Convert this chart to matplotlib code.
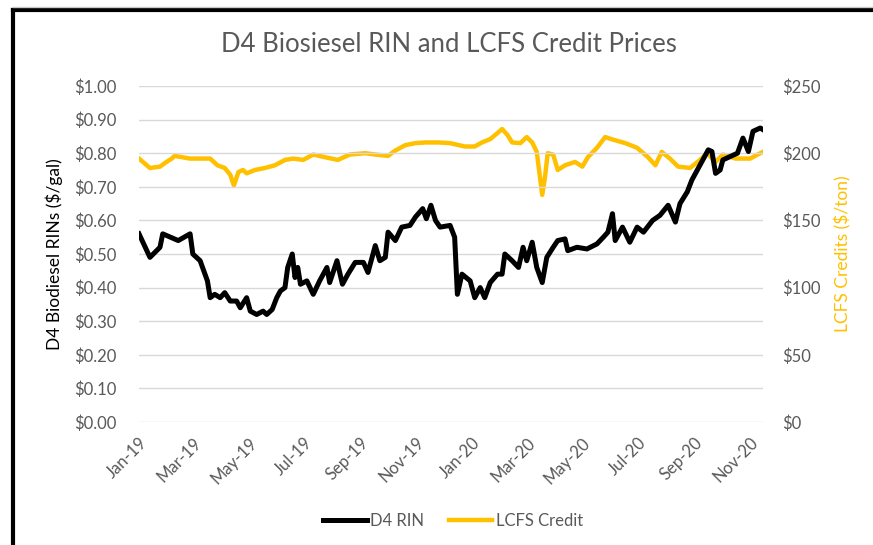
import matplotlib
matplotlib.use("Agg")
import matplotlib.pyplot as plt
from matplotlib.lines import Line2D
from matplotlib.ticker import FuncFormatter
import pandas as pd

plt.rcParams['font.family'] = ['Lato', 'DejaVu Sans']

# === D4 RIN prices ($/gal) ===
rin_dates = [
    "2019-01-01", "2019-01-13", "2019-01-24", "2019-01-27", "2019-02-13", "2019-02-26",
    "2019-03-01", "2019-03-09", "2019-03-17", "2019-03-20", "2019-03-25", "2019-03-31",
    "2019-04-05", "2019-04-11", "2019-04-18", "2019-04-22", "2019-04-29", "2019-05-03",
    "2019-05-10", "2019-05-17", "2019-05-21", "2019-05-27", "2019-06-01", "2019-06-05",
    "2019-06-10", "2019-06-13", "2019-06-18", "2019-06-21", "2019-06-24", "2019-06-27",
    "2019-07-04", "2019-07-11", "2019-07-18", "2019-07-26", "2019-07-29", "2019-08-06",
    "2019-08-12", "2019-08-18", "2019-08-26", "2019-09-04", "2019-09-09", "2019-09-17",
    "2019-09-22", "2019-09-28", "2019-10-01", "2019-10-09", "2019-10-16", "2019-10-25",
    "2019-10-31", "2019-11-08", "2019-11-12", "2019-11-17", "2019-11-22", "2019-11-27",
    "2019-12-08", "2019-12-13", "2019-12-16", "2019-12-21", "2019-12-30", "2020-01-04",
    "2020-01-10", "2020-01-15", "2020-01-21", "2020-01-29", "2020-02-03", "2020-02-06",
    "2020-02-14", "2020-02-21", "2020-02-26", "2020-03-01", "2020-03-07", "2020-03-12",
    "2020-03-18", "2020-03-23", "2020-03-30", "2020-04-04", "2020-04-12", "2020-04-15",
    "2020-04-25", "2020-05-06", "2020-05-17", "2020-05-24", "2020-05-29", "2020-06-03",
    "2020-06-06", "2020-06-14", "2020-06-22", "2020-06-30", "2020-07-07", "2020-07-17",
    "2020-07-25", "2020-08-03", "2020-08-11", "2020-08-16", "2020-08-24", "2020-08-29",
    "2020-09-04", "2020-09-10", "2020-09-16", "2020-09-20", "2020-09-24", "2020-09-29",
    "2020-10-02", "2020-10-10", "2020-10-18", "2020-10-24", "2020-10-30", "2020-11-04",
    "2020-11-12", "2020-11-15",
]
rin_values = [
    0.56, 0.49, 0.52, 0.56, 0.54, 0.56,
    0.50, 0.48, 0.42, 0.37, 0.38, 0.37,
    0.385, 0.36, 0.36, 0.34, 0.37, 0.33,
    0.32, 0.33, 0.32, 0.335, 0.37, 0.39,
    0.40, 0.46, 0.50, 0.43, 0.46, 0.41,
    0.42, 0.38, 0.42, 0.46, 0.415, 0.48,
    0.41, 0.44, 0.475, 0.475, 0.445, 0.525,
    0.48, 0.49, 0.565, 0.54, 0.58, 0.585,
    0.61, 0.635, 0.605, 0.645, 0.60, 0.58,
    0.585, 0.55, 0.38, 0.44, 0.42, 0.37,
    0.40, 0.37, 0.415, 0.44, 0.44, 0.50,
    0.48, 0.46, 0.52, 0.48, 0.535, 0.46,
    0.415, 0.49, 0.52, 0.54, 0.545, 0.51,
    0.52, 0.515, 0.53, 0.55, 0.565, 0.62,
    0.54, 0.58, 0.535, 0.58, 0.565, 0.60,
    0.615, 0.645, 0.595, 0.65, 0.685, 0.72,
    0.75, 0.78, 0.81, 0.805, 0.74, 0.75,
    0.78, 0.79, 0.80, 0.845, 0.805, 0.865,
    0.875, 0.87,
]

# === LCFS credit prices ($/ton) ===
lcfs_dates = [
    "2019-01-01", "2019-01-13", "2019-01-24", "2019-01-30", "2019-02-06", "2019-02-09",
    "2019-02-26", "2019-03-20", "2019-03-28", "2019-04-05", "2019-04-11", "2019-04-15",
    "2019-04-20", "2019-04-25", "2019-04-29", "2019-05-08", "2019-05-19", "2019-05-30",
    "2019-06-10", "2019-06-19", "2019-06-30", "2019-07-11", "2019-07-24", "2019-08-07",
    "2019-08-20", "2019-09-06", "2019-09-17", "2019-10-01", "2019-10-09", "2019-10-20",
    "2019-10-31", "2019-11-11", "2019-11-25", "2019-12-08", "2019-12-24", "2020-01-04",
    "2020-01-12", "2020-01-21", "2020-01-29", "2020-02-03", "2020-02-09", "2020-02-14",
    "2020-02-23", "2020-03-01", "2020-03-07", "2020-03-12", "2020-03-18", "2020-03-21",
    "2020-03-24", "2020-03-30", "2020-04-04", "2020-04-12", "2020-04-23", "2020-05-01",
    "2020-05-07", "2020-05-17", "2020-05-26", "2020-06-04", "2020-06-17", "2020-06-30",
    "2020-07-12", "2020-07-20", "2020-07-27", "2020-08-05", "2020-08-14", "2020-08-27",
    "2020-09-07", "2020-09-15", "2020-09-24", "2020-10-02", "2020-10-16", "2020-11-01",
    "2020-11-09", "2020-11-15",
]
lcfs_values = [
    196, 189, 190, 193, 196, 198,
    196, 196, 191, 189, 184, 176,
    186, 187.5, 185, 187.5, 189, 191,
    195, 196, 195, 199, 197, 195,
    199, 200, 199, 198, 202, 206,
    207.5, 208, 208, 207.5, 205, 205,
    208, 210.5, 215, 218, 213.5, 208,
    207.5, 212, 208, 201, 169, 182,
    200, 199, 187.5, 191, 193.5, 190,
    197, 204, 212, 210, 207.5, 204,
    197, 191, 201, 196, 190, 189,
    195, 200, 193.5, 199, 196, 196,
    199, 201,
]

tick_months = ["Jan-19", "Mar-19", "May-19", "Jul-19", "Sep-19", "Nov-19",
               "Jan-20", "Mar-20", "May-20", "Jul-20", "Sep-20", "Nov-20"]

rin = pd.Series(rin_values, index=pd.to_datetime(rin_dates))
lcfs = pd.Series(lcfs_values, index=pd.to_datetime(lcfs_dates))

gold = "#FFC000"
grey = "#595959"

fig = plt.figure(figsize=(8.73, 5.45), dpi=100)
ax = fig.add_axes([139 / 873, 1 - 422 / 545, (763 - 139) / 873, (422 - 86) / 545])
ax2 = ax.twinx()

ax.plot(rin.index, rin.values, color="black", lw=3.6, solid_joinstyle="round", zorder=3)
ax2.plot(lcfs.index, lcfs.values, color=gold, lw=3.2, solid_joinstyle="round", zorder=2)

ax.set_ylim(0, 1.0)
ax2.set_ylim(0, 250)
ax.set_yticks([i / 10 for i in range(11)])
ax2.set_yticks(range(0, 251, 50))
ax.yaxis.set_major_formatter(FuncFormatter(lambda v, p: f"${v:.2f}"))
ax2.yaxis.set_major_formatter(FuncFormatter(lambda v, p: f"${v:.0f}"))

ax.set_xlim(rin.index[0], rin.index[-1])
ticks = pd.to_datetime(tick_months, format="%b-%y")
ax.set_xticks(ticks)
ax.set_xticklabels(tick_months, rotation=45, ha="right", rotation_mode="anchor")

ax.grid(axis="y", color="#d9d9d9", lw=1.0)
ax.set_axisbelow(True)
for a in (ax, ax2):
    for s in a.spines.values():
        s.set_visible(False)
    a.tick_params(length=0, colors=grey, labelsize=12)
ax.tick_params(axis="y", pad=16)
ax.tick_params(axis="x", pad=9)
ax2.tick_params(axis="y", pad=14)
ax.set_zorder(ax2.get_zorder() + 1)
ax.patch.set_visible(False)

ax.set_ylabel("D4 Biodiesel RINs ($/gal)", fontsize=12.5, color="black", labelpad=8)
ax2.set_ylabel("LCFS Credits ($/ton)", fontsize=12.5, color=gold, labelpad=10)

fig.text(449 / 873, 1 - 45 / 545, "D4 Biosiesel RIN and LCFS Credit Prices",
         ha="center", va="center", fontsize=18.5, color=grey)

handles = [Line2D([], [], color="black", lw=3.6), Line2D([], [], color=gold, lw=3.2)]
fig.legend(handles, ["D4 RIN", "LCFS Credit"], loc="center", bbox_to_anchor=(453 / 873, 1 - 521 / 545),
           ncol=2, frameon=False, fontsize=12, labelcolor=grey, handlelength=2.6, columnspacing=1.5,
           handletextpad=0.2)

# chart frame: top and left edges only
fig.add_artist(Line2D([13 / 873, 1], [1 - 10 / 545, 1 - 10 / 545], color="black", lw=3))
fig.add_artist(Line2D([13 / 873, 13 / 873], [0, 1 - 10 / 545], color="black", lw=3))
fig.add_artist(Line2D([13 / 873, 1], [1 - 7 / 545, 1 - 7 / 545], color="#c8c8c8", lw=1))

fig.savefig("out.png", dpi=100)
